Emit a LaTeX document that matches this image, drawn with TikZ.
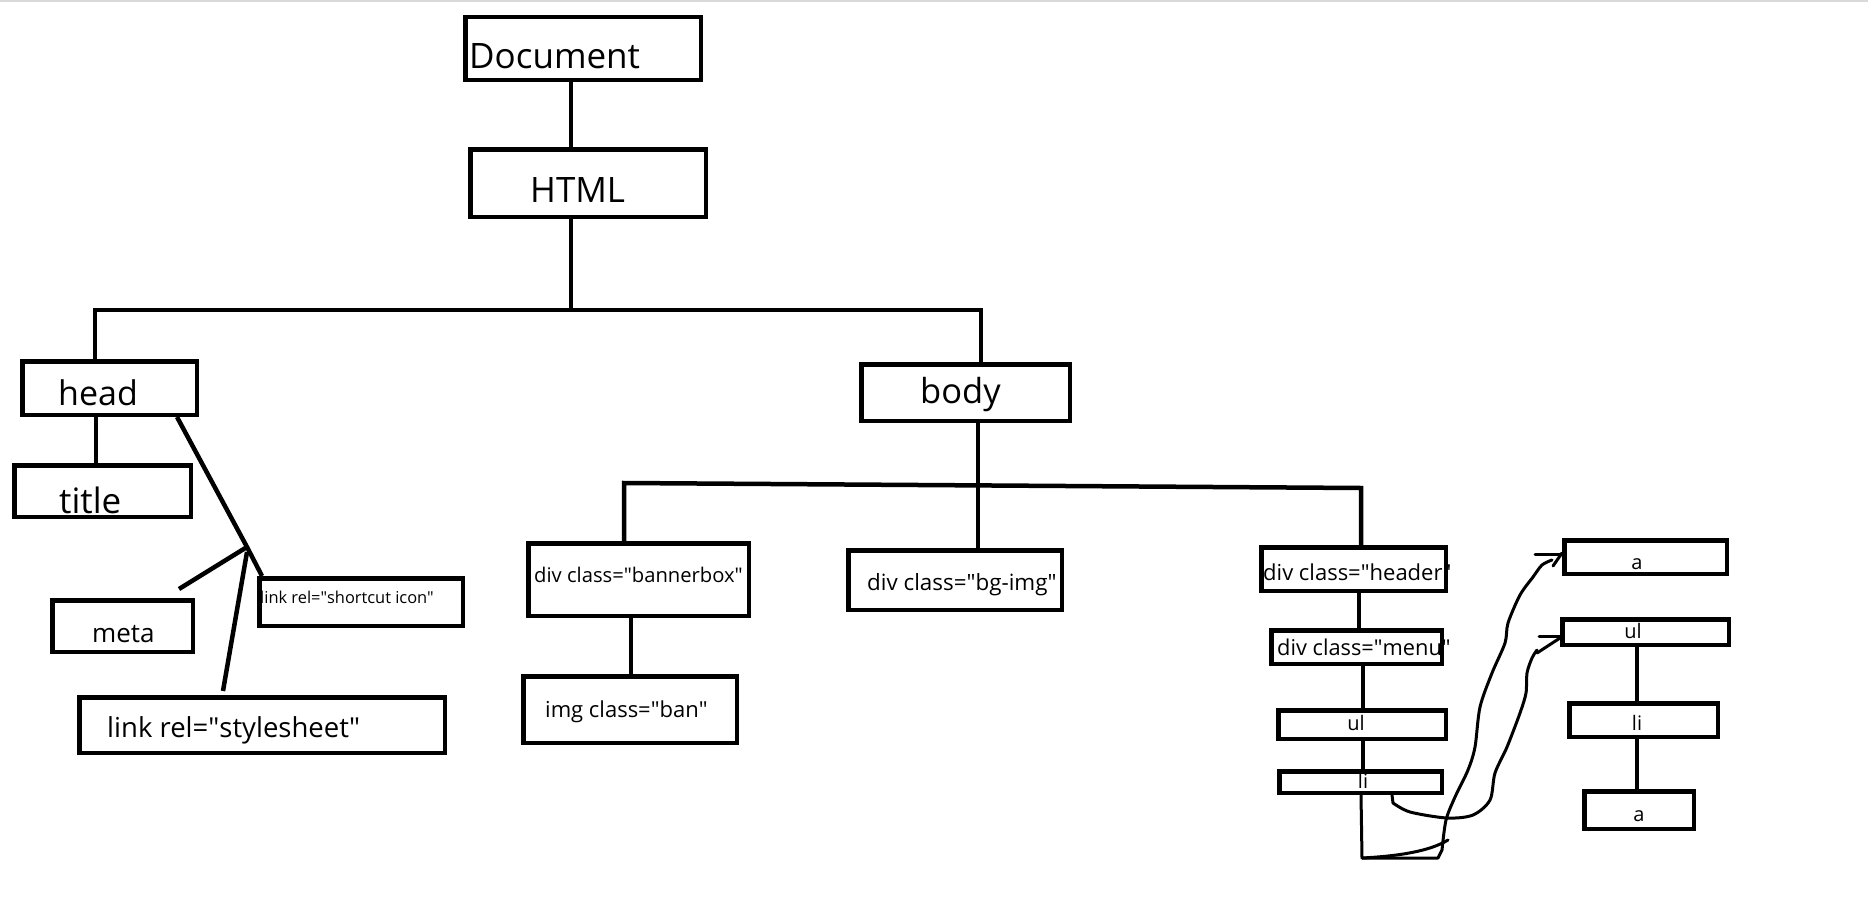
\documentclass[tikz,border=0pt]{standalone}
\usepackage{fontspec}
\setmainfont{Open Sans}
\newcommand\fs[1]{\fontsize{#1}{#1}\selectfont}
\newcommand\qq{\textquotedbl}
\newcommand\mybox[5]{\node[box, minimum width={(#4-#2-4.5)*1pt}, minimum height={(#5-#3-4.5)*1pt}] (#1) at ({(#2+#4)/2},{(#3+#5)/2}) {};}
\begin{document}
\begin{tikzpicture}[x=1pt,y=-1pt,
  box/.style={draw, line width=4.5pt, inner sep=0pt},
  lbl/.style={anchor=base west, inner sep=0pt},
  clbl/.style={anchor=base, inner sep=0pt},
  wire/.style={line width=4.5pt},
  hand/.style={line width=3pt, line cap=round, line join=round}]
\useasboundingbox (0,0) rectangle (1868,899);
\draw[black!15, line width=1.5pt] (0,1) -- (1868,1);
% texts
\node[lbl,font=\fs{35}] (tdoc) at (469,68) {Document};
\node[lbl,font=\fs{35}] (thtml) at (530,202) {HTML};
\node[lbl,font=\fs{34}] (thead) at (58,405) {head};
\node[lbl,font=\fs{35}] (ttitle) at (59,513) {title};
\node[lbl,font=\fs{26}] (tmeta) at (92,642) {meta};
\node[lbl,font=\fs{16.4}] (tsc) at (260,603) {link rel=\qq shortcut icon\qq};
\node[lbl,font=\fs{27.5}] (tss) at (107,737) {link rel=\qq stylesheet\qq};
\node[lbl,font=\fs{34.5}] (tbody) at (920,403) {body};
\node[lbl,font=\fs{20.2}] (tbb) at (534,582) {div class=\qq bannerbox\qq};
\node[lbl,font=\fs{22}] (timg) at (545,717) {img class=\qq ban\qq};
\node[lbl,font=\fs{22.4}] (tbg) at (867,590) {div class=\qq bg-img\qq};
\node[lbl,font=\fs{22}] (thdr) at (1263,580) {div class=\qq header\qq};
\node[lbl,font=\fs{21.8}] (tmenu) at (1277,655) {div class=\qq menu\qq};
\node[clbl,font=\fs{20}] (tul) at (1356,730) {ul};
\node[clbl,font=\fs{20}] (tli) at (1363,788) {li};
\node[clbl,font=\fs{20}] (ta1) at (1637,569) {a};
\node[clbl,font=\fs{20}] (tul2) at (1633,638) {ul};
\node[clbl,font=\fs{20}] (tli2) at (1637,730) {li};
\node[clbl,font=\fs{20}] (ta2) at (1639,821) {a};
% boxes
\mybox{doc}{463}{15}{703}{82}
\mybox{html}{468}{147}{708}{219}
\mybox{head}{20}{359}{199}{417}
\mybox{title}{12}{463}{193}{519}
\mybox{meta}{50}{598}{195}{654}
\mybox{sc}{257}{576}{465}{628}
\mybox{ss}{77}{695}{447}{755}
\mybox{body}{859}{362}{1072}{423}
\mybox{bb}{526}{541}{751}{618}
\mybox{img}{521}{674}{739}{745}
\mybox{bg}{846}{548}{1064}{612}
\mybox{hdr}{1259}{545}{1448}{593}
\mybox{menu}{1269}{628}{1444}{666}
\mybox{ul}{1276}{708}{1448}{741}
\mybox{li}{1277}{769}{1444}{795}
\mybox{aone}{1562}{538}{1729}{576}
\mybox{ultwo}{1560}{617}{1731}{647}
\mybox{litwo}{1567}{701}{1720}{739}
\mybox{atwo}{1582}{789}{1696}{831}
% tree connectors
\coordinate (xa) at (571,0);
\draw[wire] (doc.south -| xa) -- (html.north -| xa);
\coordinate (busm) at (571,310);
\coordinate (busl) at (95,310);
\coordinate (busr) at (981,310);
\draw[wire] (html.south -| busm) -- (busm);
\draw[wire] (head.north -| busl) -- (busl) -- (busr) -- (body.north -| busr);
\coordinate (xb) at (96,0);
\draw[wire] (head.south -| xb) -- (title.north -| xb);
\coordinate (xc) at (177,0);
\coordinate (jn) at (247,547);
\coordinate (mt) at (179,589);
\coordinate (st) at (223,691);
\draw[wire] (head.south -| xc) -- (jn) -- ([xshift=5pt]sc.north west);
\draw[wire] (jn) -- (mt);
\draw[wire] ([yshift=-5pt]jn) -- (st);
\coordinate (xd) at (978,0);
\draw[wire] (body.south -| xd) -- (bg.north -| xd);
\coordinate (btl) at (624,483);
\coordinate (btr) at (1361,488);
\draw[wire] (bb.north -| btl) -- (btl) -- (btr) -- (hdr.north -| btr);
\coordinate (xe) at (631,0);
\draw[wire] (bb.south -| xe) -- (img.north -| xe);
\coordinate (xf) at (1359,0);
\draw[wire] (hdr.south -| xf) -- (menu.north -| xf);
\coordinate (xg) at (1363,0);
\draw[wire] (menu.south -| xg) -- (ul.north -| xg);
\draw[wire] (ul.south -| xg) -- (li.north -| xg);
\coordinate (xh) at (1637,0);
\draw[wire] (ultwo.south -| xh) -- (litwo.north -| xh);
\draw[wire] (litwo.south -| xh) -- (atwo.north -| xh);
% freehand strokes
\coordinate (xi) at (1361,0);
\coordinate (lb) at (1362,858);
\coordinate (lr) at (1438,858);
\draw[hand] (li.south -| xi) -- (lb) -- (lr) -- plot[smooth] coordinates {(1442,850) (1446,820) (1455,797) (1468,770) (1475,747) (1480,707) (1492,673) (1505,643) (1508,623) (1520,595) (1533,577) (1542,565) (1552,560)};
\draw[hand] (lb) .. controls (1400,856) and (1430,851) .. (1448,840);
\coordinate (ah) at (1535,554);
\draw[hand] (ah) -- (aone.west |- ah);
\coordinate (ad) at (1553,566);
\draw[hand] (ad) -- ([yshift=4pt]aone.west);
\coordinate (xj) at (1392,0);
\draw[hand] (li.south -| xj) -- plot[smooth] coordinates {(1393,803) (1410,812) (1447,818) (1473,815) (1490,800) (1495,773) (1507,747) (1520,713) (1526,693) (1527,673) (1532,658) (1537,650)};
\coordinate (bh) at (1539,636);
\draw[hand] (bh) -- (ultwo.west |- bh);
\coordinate (bd) at (1537,653);
\draw[hand] (bd) -- ([yshift=-6pt]ultwo.west);
\end{tikzpicture}
\end{document}
